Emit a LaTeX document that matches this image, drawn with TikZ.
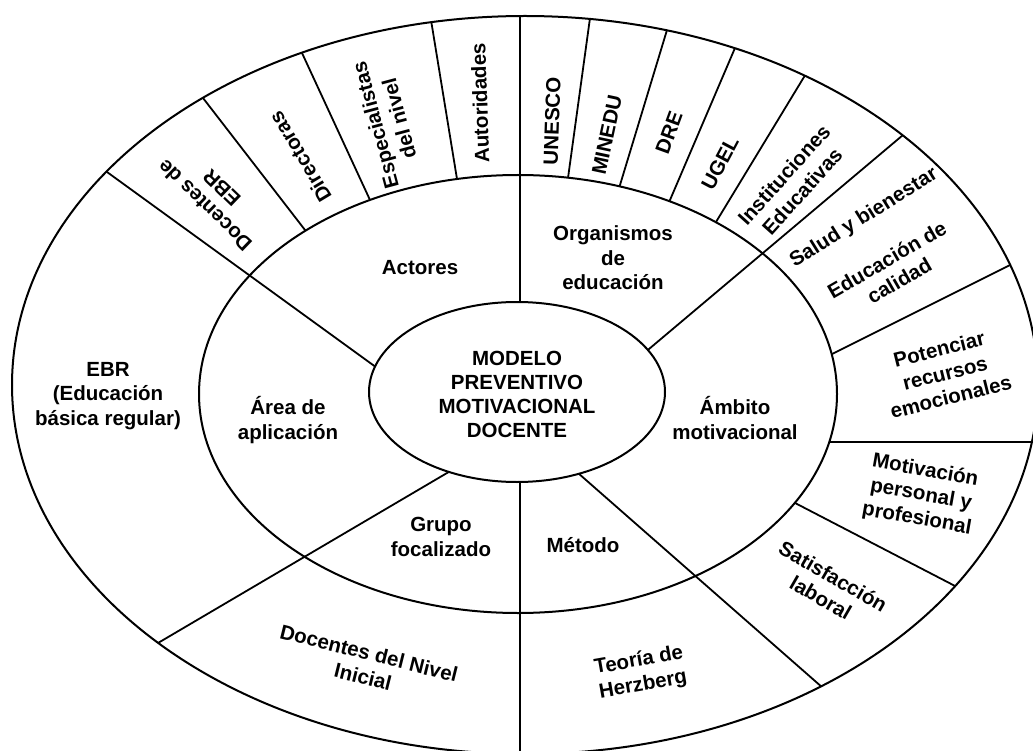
\documentclass[tikz,border=0pt]{standalone}
\usepackage{fontspec}
\setmainfont{Liberation Sans}
\usetikzlibrary{shapes.geometric}

\tikzset{
	ring/.style={line width = 2pt},
	spoke/.style={line width = 1.8pt, shorten <=-12pt, shorten >=-12pt},
	lbl/.style={font=\fontsize{20.5}{24.5}\selectfont\bfseries, align=center, inner sep=0pt},
}

\begin{document}
\begin{tikzpicture}[x=1pt,y=-1pt]
	\useasboundingbox (0,0) rectangle (1033,751);
	
	% dividers of the outer ring
	\begin{scope}[even odd rule]
		\clip (525,385) ellipse [x radius=513pt, y radius=369pt] (518,394) ellipse [x radius=319pt, y radius=219pt];
		\draw[spoke] (305,230) -- (203,98);
		\draw[spoke] (370,200) -- (302,53);
		\draw[spoke] (457,179) -- (431,20);
		\draw[spoke] (568,178) -- (590,18);
		\draw[spoke] (620,185) -- (667,30);
		\draw[spoke] (670,200) -- (735,48);
		\draw[spoke] (716,222) -- (804,77);
		\draw[spoke] (832,354) -- (1012,264);
		\draw[spoke] (831,442) -- (1035,442);
		\draw[spoke] (797,504) -- (957,587);
	\end{scope}
	
	% dividers through both rings
	\begin{scope}[even odd rule]
		\clip (525,385) ellipse [x radius=513pt, y radius=369pt] (517,392) ellipse [x radius=148pt, y radius=90pt];
		\draw[spoke] (373,365) -- (107,172);
		\draw[spoke] (520,303) -- (520,15);
		\draw[spoke] (649,349) -- (903,135);
		\draw[spoke] (447,473) -- (158,643);
		\draw[spoke] (520,482) -- (520,755);
		\draw[spoke] (578,473) -- (823,688);
	\end{scope}
	
	\draw[ring] (525,385) ellipse [x radius=513pt, y radius=369pt];
	\draw[ring] (518,394) ellipse [x radius=319pt, y radius=219pt];
	\node[ring, draw, ellipse, minimum width=296pt, minimum height=180pt, inner sep=0pt] (core) at (517,392) {};
	
	\node[lbl, font=\fontsize{20.5}{24}\selectfont\bfseries] (modelo) at (517,394) {MODELO\\PREVENTIVO\\MOTIVACIONAL\\DOCENTE};
	
	% middle ring
	\node[lbl] (actores) at (420,268) {Actores};
	\node[lbl] (organismos) at (613,258) {Organismos\\de\\educación};
	\node[lbl] (area) at (288,420) {Área de\\aplicación};
	\node[lbl] (ambito) at (735,418) {Ámbito\\motivacional};
	\node[lbl] (grupo) at (441,537) {Grupo\\focalizado};
	\node[lbl] (metodo) at (583,545) {Método};
	
	% outer ring
	\node[lbl] (ebr) at (108,396) {EBR\\(Educación\\básica regular)};
	\node[lbl, rotate=136] (docentesebr) at (213,197) {Docentes de\\EBR};
	\node[lbl, rotate=121] (directoras) at (300,157) {Directoras};
	\node[lbl, rotate=105] (especialistas) at (387,122) {Especialistas\\del nivel};
	\node[lbl, rotate=92] (autoridades) at (480,103) {Autoridades};
	\node[lbl, rotate=88] (unesco) at (552,121) {UNESCO};
	\node[lbl, rotate=78] (minedu) at (607,135) {MINEDU};
	\node[lbl, rotate=70] (dre) at (669,133) {DRE};
	\node[lbl, rotate=62] (ugel) at (720,163) {UGEL};
	\node[lbl, rotate=48] (instituciones) at (793,183) {Instituciones\\Educativas};
	\node[lbl, rotate=32] (salud) at (864,218) {Salud y bienestar};
	\node[lbl, rotate=30] (calidad) at (893,270) {Educación de\\calidad};
	\node[lbl, rotate=14] (potenciar) at (945,373) {Potenciar\\recursos\\emocionales};
	\node[lbl, rotate=-10] (motivacion) at (921,495) {Motivación\\personal y\\profesional};
	\node[lbl, rotate=-30] (satisfaccion) at (827,587) {Satisfacción\\laboral};
	\node[lbl, rotate=10] (herzberg) at (641,673) {Teoría de\\Herzberg};
	\node[lbl, rotate=-14] (inicial) at (366,665) {Docentes del Nivel\\Inicial};
\end{tikzpicture}
\end{document}
